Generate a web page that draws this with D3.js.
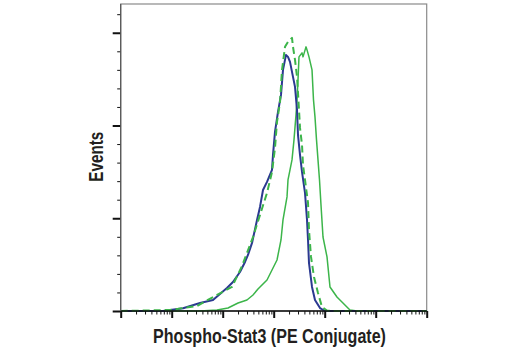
<!DOCTYPE html>
<html>
<head>
<meta charset="utf-8">
<script src="https://cdn.jsdelivr.net/npm/d3@7"></script>
<style>
html,body{margin:0;padding:0;background:#fff;}
svg{display:block;}
</style>
</head>
<body>
<svg id="chart" width="520" height="350"></svg>
<script>
// ---- data (fluorescence intensity, event counts) ----
const blueX = [1, 6.75, 16.7, 35.9, 64.5, 121, 159, 218, 274, 313, 376, 471, 539, 617, 739, 926, 969, 1060, 1214, 1390, 1522, 1742, 1907, 2088, 2390, 2617, 2865, 2995, 3280, 3590, 4110, 4500, 4710, 4920, 5640, 6450, 8090, 10140, 1000000];
const blueY = [0, 0, 2.9, 8.6, 11.9, 24.8, 31.3, 42.1, 52.9, 60.4, 73.4, 98.2, 112.2, 130.5, 139.2, 152.1, 168.3, 193.1, 214.7, 233, 260, 276.1, 274, 268.6, 252.4, 241.6, 216.8, 189.9, 168.3, 149.9, 127.3, 98.2, 76.6, 51.8, 25.9, 11.9, 3.2, 0, 0];

const dashX = [1, 9.26, 31.3, 70.6, 152, 239, 343, 393, 539, 739, 926, 1060, 1161, 1330, 1455, 1667, 1907, 2284, 2390, 2617, 2865, 2995, 3133, 3280, 3590, 3755, 4110, 4710, 4920, 5390, 6170, 7390, 8850, 11100, 13500, 1000000];
const dashY = [0, 1.1, 5.4, 16.2, 25.9, 48.5, 71.2, 79.8, 103.6, 127.3, 149.9, 175.8, 203.9, 225.4, 260, 284.8, 290.2, 294.5, 284.8, 270.8, 252.4, 235.2, 216.8, 197.4, 179.1, 157.5, 141.3, 116.5, 87.4, 58.3, 36.7, 19.4, 4.3, 0.5, 0, 0];

const greenX = [1, 35.9, 77.3, 127, 200, 299, 393, 492, 739, 1161, 1390, 1522, 1824, 1907, 2088, 2284, 2500, 2737, 2865, 2995, 3133, 3590, 3755, 4300, 4500, 4920, 5640, 6030, 6450, 6910, 7390, 7910, 8460, 9260, 11100, 12700, 17400, 22800, 31300, 43000, 1000000];
const greenY = [0, 0, 1.1, 3.2, 8.6, 11.9, 17.3, 23.7, 33.4, 55, 76.6, 98.2, 123, 141.3, 152.1, 162.9, 184.5, 211.4, 227.6, 249.2, 274, 278.3, 274, 284.8, 281.5, 274, 260, 227.6, 209.3, 184.5, 162.9, 141.3, 114.3, 79.8, 58.3, 25.9, 15.1, 8.6, 1.1, 0, 0];

const xDecades = [1, 10, 100, 1000, 10000, 100000, 1000000];
const yTickValues = [0, 20, 40, 60, 80, 100, 120, 140, 160, 180, 200, 220, 240, 260, 280, 300, 320];
const yMajorTicks = [0, 100, 200, 300];
const xTitle = "Phospho-Stat3 (PE Conjugate)";
const yTitle = "Events";

// ---- layout ----
const L = 120.7, R = 426.7, T = 4, B = 311;
const svg = d3.select("#chart");

const x = d3.scaleLog().domain([1, 1000000]).range([L, R]);
const y = d3.scaleLinear().domain([0, 331]).range([B, T]);

// frame
svg.append("rect").attr("x", L).attr("y", T).attr("width", R - L).attr("height", B - T)
  .attr("fill", "none").attr("stroke", "#8a8a8a").attr("stroke-width", 1.2);

// curves
const line = (xs, ys) => d3.line().x((d, i) => x(xs[i])).y((d, i) => y(ys[i]))(xs);

svg.append("path").attr("d", line(greenX, greenY)).attr("fill", "none")
  .attr("stroke", "#3cb54a").attr("stroke-width", 1.5).attr("stroke-linejoin", "round");
svg.append("path").attr("d", line(blueX, blueY)).attr("fill", "none")
  .attr("stroke", "#2b3990").attr("stroke-width", 2).attr("stroke-linejoin", "round");
svg.append("path").attr("d", line(dashX, dashY)).attr("fill", "none")
  .attr("stroke", "#3cb54a").attr("stroke-width", 2).attr("stroke-dasharray", "7,4")
  .attr("stroke-linejoin", "round");

// x axis ticks
const xMinor = [];
xDecades.slice(0, -1).forEach(d => { for (let k = 2; k <= 9; k++) xMinor.push(d * k); });
const gx = svg.append("g").attr("transform", `translate(0,${B})`);
gx.call(d3.axisBottom(x).tickValues(xMinor).tickSize(3.5).tickFormat(""))
  .call(g => g.select(".domain").remove())
  .call(g => g.selectAll("line").attr("stroke", "#111").attr("stroke-width", 1));
const gx2 = svg.append("g").attr("transform", `translate(0,${B})`);
gx2.call(d3.axisBottom(x).tickValues(xDecades).tickSize(7).tickFormat(""))
  .call(g => g.select(".domain").remove())
  .call(g => g.selectAll("line").attr("stroke", "#111").attr("stroke-width", 2));

// y axis ticks
const gy = svg.append("g").attr("transform", `translate(${L},0)`);
gy.call(d3.axisLeft(y).tickValues(yTickValues.filter(v => !yMajorTicks.includes(v))).tickSize(3.5).tickFormat(""))
  .call(g => g.select(".domain").remove())
  .call(g => g.selectAll("line").attr("stroke", "#111").attr("stroke-width", 1));
const gy2 = svg.append("g").attr("transform", `translate(${L},0)`);
gy2.call(d3.axisLeft(y).tickValues(yMajorTicks).tickSize(8).tickFormat(""))
  .call(g => g.select(".domain").remove())
  .call(g => g.selectAll("line").attr("stroke", "#111").attr("stroke-width", 2));

// axis lines
svg.append("line").attr("x1", L).attr("x2", R).attr("y1", B).attr("y2", B)
  .attr("stroke", "#111").attr("stroke-width", 1.6);
svg.append("line").attr("x1", L).attr("x2", L).attr("y1", T).attr("y2", B)
  .attr("stroke", "#555").attr("stroke-width", 1.2);

// titles (condensed bold look via horizontal scaling)
function fitText(sel, target) {
  const w = sel.node().getComputedTextLength();
  return w > 0 ? target / w : 1;
}
const xt = svg.append("text").text(xTitle)
  .attr("font-family", "Liberation Sans, Arial, sans-serif").attr("font-weight", "bold")
  .attr("font-size", 19.5).attr("fill", "#231f20").attr("text-anchor", "middle");
const sx = fitText(xt, 233);
xt.attr("transform", `translate(269.5,343.3) scale(${sx},1)`);

const yt = svg.append("text").text(yTitle)
  .attr("font-family", "Liberation Sans, Arial, sans-serif").attr("font-weight", "bold")
  .attr("font-size", 19.5).attr("fill", "#231f20").attr("text-anchor", "middle");
const sy = fitText(yt, 50);
yt.attr("transform", `translate(103.3,156.7) rotate(-90) scale(${sy},1)`);
</script>
</body>
</html>
